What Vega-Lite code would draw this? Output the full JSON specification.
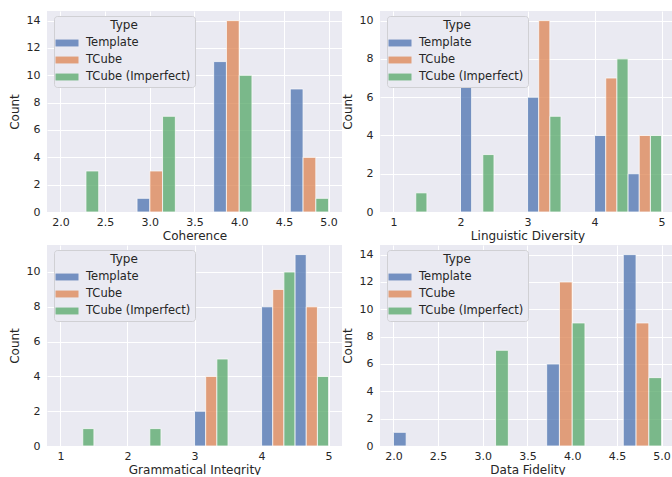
{
  "$schema": "https://vega.github.io/schema/vega-lite/v6.json",
  "background": "white",
  "padding": {"left": 8, "top": 11, "right": 0, "bottom": 0},
  "config": {
    "font": "DejaVu Sans",
    "view": {"fill": "#EAEAF2", "stroke": null},
    "axis": {"domain": false, "ticks": false, "grid": true, "gridColor": "white", "gridWidth": 1, "labelFontSize": 11, "labelColor": "#262626", "titleFontSize": 12, "titleFontWeight": "normal", "titleColor": "#262626"},
    "axisX": {"labelPadding": 4, "titlePadding": 3},
    "axisY": {"labelPadding": 7, "titlePadding": 5},
    "legend": {
      "orient": "none", "legendX": 7, "legendY": 5,
      "fillColor": "#EAEAF2", "strokeColor": "#D0D0D4", "cornerRadius": 3, "padding": 4,
      "titleFontSize": 12, "titleFontWeight": "normal", "titleColor": "#262626", "titleAnchor": "middle", "titlePadding": 5,
      "labelFontSize": 11.5, "labelColor": "#262626", "labelOffset": 13,
      "symbolType": "M-2,-0.6H2V0.6H-2Z", "symbolSize": 132, "symbolOffset": 3, "symbolStrokeWidth": 0, "symbolOpacity": 0.75,
      "rowPadding": 5
    }
  },
  "datasets": {
    "bars": [
      {"metric": "Coherence", "type": "TCube (Imperfect)", "bin_lo": 2.0, "bin_hi": 2.428571, "count": 3},
      {"metric": "Coherence", "type": "Template", "bin_lo": 2.857143, "bin_hi": 3.285714, "count": 1},
      {"metric": "Coherence", "type": "TCube", "bin_lo": 2.857143, "bin_hi": 3.285714, "count": 3},
      {"metric": "Coherence", "type": "TCube (Imperfect)", "bin_lo": 2.857143, "bin_hi": 3.285714, "count": 7},
      {"metric": "Coherence", "type": "Template", "bin_lo": 3.714286, "bin_hi": 4.142857, "count": 11},
      {"metric": "Coherence", "type": "TCube", "bin_lo": 3.714286, "bin_hi": 4.142857, "count": 14},
      {"metric": "Coherence", "type": "TCube (Imperfect)", "bin_lo": 3.714286, "bin_hi": 4.142857, "count": 10},
      {"metric": "Coherence", "type": "Template", "bin_lo": 4.571429, "bin_hi": 5.0, "count": 9},
      {"metric": "Coherence", "type": "TCube", "bin_lo": 4.571429, "bin_hi": 5.0, "count": 4},
      {"metric": "Coherence", "type": "TCube (Imperfect)", "bin_lo": 4.571429, "bin_hi": 5.0, "count": 1},

      {"metric": "Linguistic Diversity", "type": "TCube (Imperfect)", "bin_lo": 1.0, "bin_hi": 1.5, "count": 1},
      {"metric": "Linguistic Diversity", "type": "Template", "bin_lo": 2.0, "bin_hi": 2.5, "count": 9},
      {"metric": "Linguistic Diversity", "type": "TCube (Imperfect)", "bin_lo": 2.0, "bin_hi": 2.5, "count": 3},
      {"metric": "Linguistic Diversity", "type": "Template", "bin_lo": 3.0, "bin_hi": 3.5, "count": 6},
      {"metric": "Linguistic Diversity", "type": "TCube", "bin_lo": 3.0, "bin_hi": 3.5, "count": 10},
      {"metric": "Linguistic Diversity", "type": "TCube (Imperfect)", "bin_lo": 3.0, "bin_hi": 3.5, "count": 5},
      {"metric": "Linguistic Diversity", "type": "Template", "bin_lo": 4.0, "bin_hi": 4.5, "count": 4},
      {"metric": "Linguistic Diversity", "type": "TCube", "bin_lo": 4.0, "bin_hi": 4.5, "count": 7},
      {"metric": "Linguistic Diversity", "type": "TCube (Imperfect)", "bin_lo": 4.0, "bin_hi": 4.5, "count": 8},
      {"metric": "Linguistic Diversity", "type": "Template", "bin_lo": 4.5, "bin_hi": 5.0, "count": 2},
      {"metric": "Linguistic Diversity", "type": "TCube", "bin_lo": 4.5, "bin_hi": 5.0, "count": 4},
      {"metric": "Linguistic Diversity", "type": "TCube (Imperfect)", "bin_lo": 4.5, "bin_hi": 5.0, "count": 4},

      {"metric": "Grammatical Integrity", "type": "TCube (Imperfect)", "bin_lo": 1.0, "bin_hi": 1.5, "count": 1},
      {"metric": "Grammatical Integrity", "type": "TCube (Imperfect)", "bin_lo": 2.0, "bin_hi": 2.5, "count": 1},
      {"metric": "Grammatical Integrity", "type": "Template", "bin_lo": 3.0, "bin_hi": 3.5, "count": 2},
      {"metric": "Grammatical Integrity", "type": "TCube", "bin_lo": 3.0, "bin_hi": 3.5, "count": 4},
      {"metric": "Grammatical Integrity", "type": "TCube (Imperfect)", "bin_lo": 3.0, "bin_hi": 3.5, "count": 5},
      {"metric": "Grammatical Integrity", "type": "Template", "bin_lo": 4.0, "bin_hi": 4.5, "count": 8},
      {"metric": "Grammatical Integrity", "type": "TCube", "bin_lo": 4.0, "bin_hi": 4.5, "count": 9},
      {"metric": "Grammatical Integrity", "type": "TCube (Imperfect)", "bin_lo": 4.0, "bin_hi": 4.5, "count": 10},
      {"metric": "Grammatical Integrity", "type": "Template", "bin_lo": 4.5, "bin_hi": 5.0, "count": 11},
      {"metric": "Grammatical Integrity", "type": "TCube", "bin_lo": 4.5, "bin_hi": 5.0, "count": 8},
      {"metric": "Grammatical Integrity", "type": "TCube (Imperfect)", "bin_lo": 4.5, "bin_hi": 5.0, "count": 4},

      {"metric": "Data Fidelity", "type": "Template", "bin_lo": 2.0, "bin_hi": 2.428571, "count": 1},
      {"metric": "Data Fidelity", "type": "TCube (Imperfect)", "bin_lo": 2.857143, "bin_hi": 3.285714, "count": 7},
      {"metric": "Data Fidelity", "type": "Template", "bin_lo": 3.714286, "bin_hi": 4.142857, "count": 6},
      {"metric": "Data Fidelity", "type": "TCube", "bin_lo": 3.714286, "bin_hi": 4.142857, "count": 12},
      {"metric": "Data Fidelity", "type": "TCube (Imperfect)", "bin_lo": 3.714286, "bin_hi": 4.142857, "count": 9},
      {"metric": "Data Fidelity", "type": "Template", "bin_lo": 4.571429, "bin_hi": 5.0, "count": 14},
      {"metric": "Data Fidelity", "type": "TCube", "bin_lo": 4.571429, "bin_hi": 5.0, "count": 9},
      {"metric": "Data Fidelity", "type": "TCube (Imperfect)", "bin_lo": 4.571429, "bin_hi": 5.0, "count": 5}
    ]
  },
  "columns": 2,
  "spacing": {"row": 33, "column": 38},
  "bounds": "flush",
  "resolve": {"scale": {"color": "independent"}, "legend": {"color": "independent"}},
  "concat": [
    {
      "width": 295, "height": 201,
      "data": {"name": "bars"},
      "transform": [
        {"filter": "datum.metric === 'Coherence'"},
        {"calculate": "indexof(['Template','TCube','TCube (Imperfect)'], datum.type)", "as": "k"},
        {"calculate": "datum.bin_lo + datum.k * (datum.bin_hi - datum.bin_lo) / 3", "as": "x0"},
        {"calculate": "datum.bin_lo + (datum.k + 1) * (datum.bin_hi - datum.bin_lo) / 3", "as": "x1"}
      ],
      "mark": {"type": "bar", "opacity": 0.75, "stroke": "white", "strokeWidth": 0.8},
      "encoding": {
        "x": {"field": "x0", "type": "quantitative", "scale": {"domain": [1.85, 5.15], "nice": false, "zero": false}, "axis": {"title": "Coherence", "values": [2, 2.5, 3, 3.5, 4, 4.5, 5], "format": ".1f"}},
        "x2": {"field": "x1"},
        "y": {"field": "count", "type": "quantitative", "scale": {"domain": [0, 14.7], "nice": false}, "axis": {"title": "Count", "values": [0, 2, 4, 6, 8, 10, 12, 14]}},
        "y2": {"datum": 0},
        "color": {"field": "type", "type": "nominal", "scale": {"domain": ["Template", "TCube", "TCube (Imperfect)"], "range": ["#4C72B0", "#DD8452", "#55A868"]}, "legend": {"title": "Type"}}
      }
    },
    {
      "width": 295, "height": 201,
      "data": {"name": "bars"},
      "transform": [
        {"filter": "datum.metric === 'Linguistic Diversity'"},
        {"calculate": "indexof(['Template','TCube','TCube (Imperfect)'], datum.type)", "as": "k"},
        {"calculate": "datum.bin_lo + datum.k * (datum.bin_hi - datum.bin_lo) / 3", "as": "x0"},
        {"calculate": "datum.bin_lo + (datum.k + 1) * (datum.bin_hi - datum.bin_lo) / 3", "as": "x1"}
      ],
      "mark": {"type": "bar", "opacity": 0.75, "stroke": "white", "strokeWidth": 0.8},
      "encoding": {
        "x": {"field": "x0", "type": "quantitative", "scale": {"domain": [0.8, 5.2], "nice": false, "zero": false}, "axis": {"title": "Linguistic Diversity", "values": [1, 2, 3, 4, 5], "format": "d"}},
        "x2": {"field": "x1"},
        "y": {"field": "count", "type": "quantitative", "scale": {"domain": [0, 10.5], "nice": false}, "axis": {"title": "Count", "values": [0, 2, 4, 6, 8, 10]}},
        "y2": {"datum": 0},
        "color": {"field": "type", "type": "nominal", "scale": {"domain": ["Template", "TCube", "TCube (Imperfect)"], "range": ["#4C72B0", "#DD8452", "#55A868"]}, "legend": {"title": "Type"}}
      }
    },
    {
      "width": 295, "height": 201,
      "data": {"name": "bars"},
      "transform": [
        {"filter": "datum.metric === 'Grammatical Integrity'"},
        {"calculate": "indexof(['Template','TCube','TCube (Imperfect)'], datum.type)", "as": "k"},
        {"calculate": "datum.bin_lo + datum.k * (datum.bin_hi - datum.bin_lo) / 3", "as": "x0"},
        {"calculate": "datum.bin_lo + (datum.k + 1) * (datum.bin_hi - datum.bin_lo) / 3", "as": "x1"}
      ],
      "mark": {"type": "bar", "opacity": 0.75, "stroke": "white", "strokeWidth": 0.8},
      "encoding": {
        "x": {"field": "x0", "type": "quantitative", "scale": {"domain": [0.8, 5.2], "nice": false, "zero": false}, "axis": {"title": "Grammatical Integrity", "values": [1, 2, 3, 4, 5], "format": "d"}},
        "x2": {"field": "x1"},
        "y": {"field": "count", "type": "quantitative", "scale": {"domain": [0, 11.55], "nice": false}, "axis": {"title": "Count", "values": [0, 2, 4, 6, 8, 10]}},
        "y2": {"datum": 0},
        "color": {"field": "type", "type": "nominal", "scale": {"domain": ["Template", "TCube", "TCube (Imperfect)"], "range": ["#4C72B0", "#DD8452", "#55A868"]}, "legend": {"title": "Type"}}
      }
    },
    {
      "width": 295, "height": 201,
      "data": {"name": "bars"},
      "transform": [
        {"filter": "datum.metric === 'Data Fidelity'"},
        {"calculate": "indexof(['Template','TCube','TCube (Imperfect)'], datum.type)", "as": "k"},
        {"calculate": "datum.bin_lo + datum.k * (datum.bin_hi - datum.bin_lo) / 3", "as": "x0"},
        {"calculate": "datum.bin_lo + (datum.k + 1) * (datum.bin_hi - datum.bin_lo) / 3", "as": "x1"}
      ],
      "mark": {"type": "bar", "opacity": 0.75, "stroke": "white", "strokeWidth": 0.8},
      "encoding": {
        "x": {"field": "x0", "type": "quantitative", "scale": {"domain": [1.85, 5.15], "nice": false, "zero": false}, "axis": {"title": "Data Fidelity", "values": [2, 2.5, 3, 3.5, 4, 4.5, 5], "format": ".1f"}},
        "x2": {"field": "x1"},
        "y": {"field": "count", "type": "quantitative", "scale": {"domain": [0, 14.7], "nice": false}, "axis": {"title": "Count", "values": [0, 2, 4, 6, 8, 10, 12, 14]}},
        "y2": {"datum": 0},
        "color": {"field": "type", "type": "nominal", "scale": {"domain": ["Template", "TCube", "TCube (Imperfect)"], "range": ["#4C72B0", "#DD8452", "#55A868"]}, "legend": {"title": "Type"}}
      }
    }
  ]
}
